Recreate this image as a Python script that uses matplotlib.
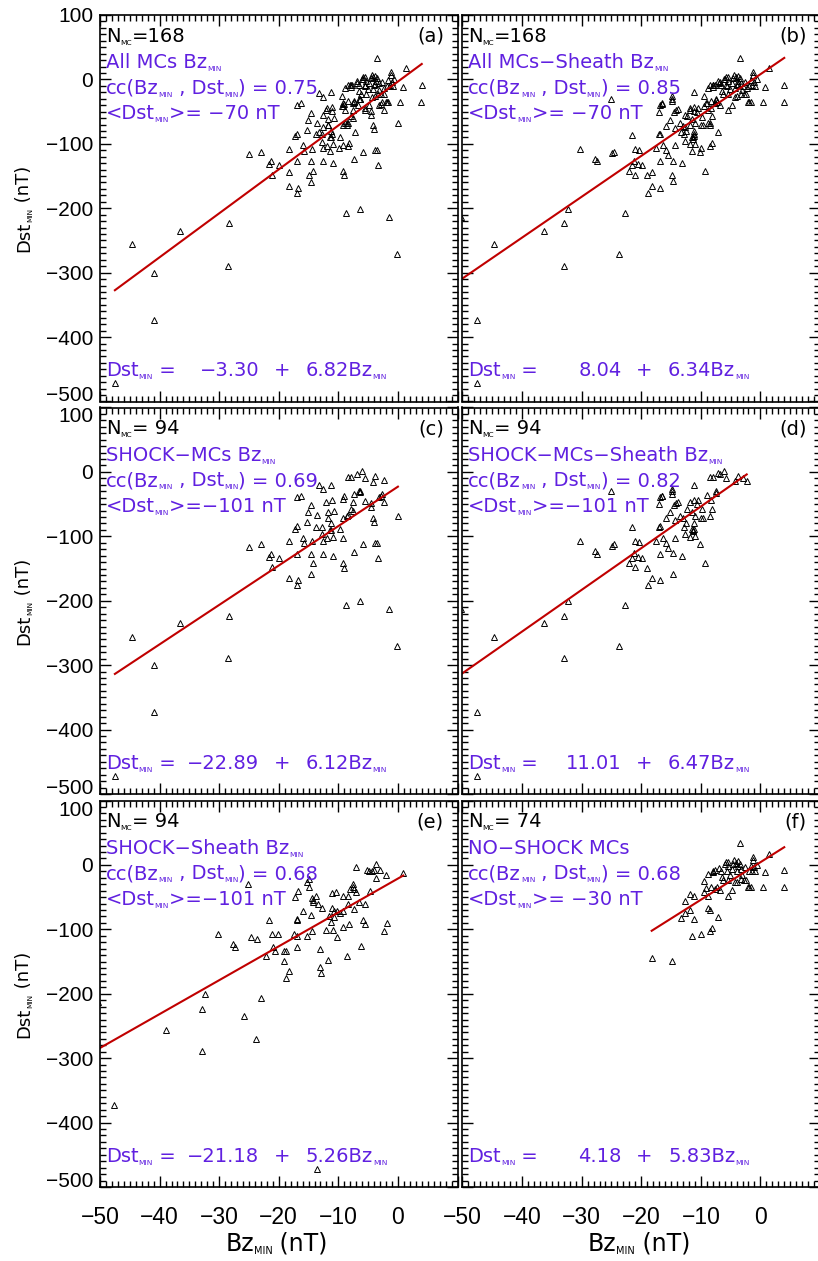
import numpy as np
import matplotlib
matplotlib.use("Agg")
import matplotlib.pyplot as plt
from matplotlib.ticker import MultipleLocator

plt.rcParams["font.family"] = "DejaVu Sans"

PURPLE = "#6020e0"
RED = "#c00000"
MINUS = "\u2212"

# shock-driving MCs, Bz_MIN inside the MC  (panel c)
bz_c = [-47.5, -44.7, -41.0, -40.9, -36.5, -28.6, -28.3, -25.0, -23.0, -21.6,
        -21.3, -21.2, -19.9, -18.3, -18.2, -17.3, -16.9, -16.9, -17.0, -16.8,
        -16.9, -16.3, -15.9, -15.7, -15.3, -15.1, -14.6, -14.6, -14.6, -14.3,
        -14.5, -13.7, -13.5, -13.3, -12.7, -12.7, -12.6, -12.6, -12.6, -12.0,
        -11.9, -11.8, -11.7, -11.4, -11.2, -11.2, -11.2, -11.0, -10.9, -10.9,
        -10.7, -9.7, -9.3, -9.2, -9.1, -9.2, -9.0, -8.7, -9.3, -8.5,
        -8.3, -8.3, -7.8, -7.8, -7.6, -7.5, -7.4, -7.4, -6.9, -6.6,
        -6.4, -6.3, -6.4, -6.0, -5.8, -5.6, -5.5, -4.5, -4.2, -4.1,
        -4.0, -3.8, -3.8, -3.5, -3.4, -3.1, -2.6, -2.4, -2.3, -1.5,
        0.0, -0.1, -2.9, -4.6]
dst_c = [-472, -256, -300, -373, -235, -289, -223, -116, -112, -132,
         -127, -148, -133, -108, -165, -88, -84, -127, -176, -168,
         -39, -37, -102, -111, -78, -63, -52, -127, -159, -142,
         -108, -85, -67, -21, -85, -97, -27, -107, -127, -47,
         -103, -71, -62, -90, -90, -80, -20, -43, -101, -130,
         -60, -89, -42, -102, -38, -142, -149, -207, -71, -68,
         -8, -67, -8, -57, -60, -47, -34, -124, -3, -30,
         -30, -31, -201, 1, -112, -9, -45, -49, -15, -71,
         -77, -7, -110, -110, -133, -39, -35, -13, -47, -213,
         -68, -271, -38, -55]

# shock-driving MCs, Bz_MIN over MC + sheath  (panel d)
bz_d = [-50.3, -47.6, -47.5, -44.7, -36.4, -32.9, -32.9, -32.3, -30.3, -27.8,
        -27.4, -25.0, -24.9, -24.6, -23.8, -22.8, -22.1, -21.6, -21.6, -21.2,
        -21.1, -21.0, -20.6, -20.3, -19.9, -19.1, -18.8, -18.2, -17.5, -17.1,
        -17.0, -16.8, -16.8, -16.8, -16.8, -16.5, -16.3, -15.9, -15.9, -15.2,
        -14.9, -14.8, -14.6, -14.6, -14.5, -14.4, -14.3, -14.2, -13.8, -13.5,
        -13.2, -12.8, -12.7, -11.9, -11.8, -11.5, -11.4, -11.2, -11.2, -11.0,
        -10.9, -11.1, -11.3, -10.4, -10.2, -10.0, -9.6, -9.3, -8.9, -8.5,
        -8.3, -8.2, -8.5, -8.0, -7.5, -7.4, -7.1, -6.1, -5.7, -4.3,
        -3.7, -2.3, -16.6, -14.8, -11.3, -11.2, -13.0, -12.3, -9.8, -15.5,
        -10.6, -6.8, -3.0, -12.5]
dst_d = [-213, -373, -472, -256, -235, -223, -289, -201, -108, -123,
         -127, -30, -115, -112, -271, -207, -142, -86, -133, -126,
         -148, -108, -132, -109, -133, -149, -176, -165, -107, -50,
         -85, -84, -127, -168, -39, -37, -102, -110, -72, -63,
         -26, -34, -126, -158, -51, -102, -75, -48, -46, -68,
         -130, -85, -96, -47, -101, -62, -89, -20, -43, -68,
         -100, -80, -90, -44, -112, -71, -71, -142, -36, -68,
         -44, -57, -8, -8, -30, -32, -2, 1, -9, -14,
         -7, -14, -38, -30, -92, -88, -72, -57, -58, -118,
         -50, -4, -10, -80]

# shock-driving MCs, Bz_MIN inside the sheath  (panel e)
bz_e = [-50.3, -47.6, -38.9, -32.9, -32.9, -32.4, -30.2, -27.7, -27.3, -25.9,
        -25.1, -24.7, -23.7, -23.8, -22.9, -22.2, -21.6, -21.1, -21.0, -20.6,
        -20.2, -19.1, -19.1, -18.8, -18.8, -18.2, -17.5, -17.2, -17.0, -16.9,
        -16.9, -16.9, -16.7, -16.0, -15.3, -15.2, -14.9, -15.0, -14.6, -14.5,
        -14.5, -14.3, -14.2, -13.7, -13.4, -13.1, -13.0, -12.9, -12.7, -12.0,
        -11.8, -11.6, -11.2, -11.1, -11.1, -10.9, -10.8, -10.7, -10.4, -10.3,
        -10.3, -9.3, -9.2, -9.3, -8.5, -8.3, -8.3, -8.2, -8.1, -7.6,
        -7.5, -7.4, -7.3, -7.1, -7.0, -6.5, -6.2, -5.9, -5.6, -5.5,
        -5.2, -4.8, -4.7, -4.4, -4.0, -3.7, -3.6, -3.0, -2.4, -2.0,
        -1.9, 0.9, -13.6, -9.8]
dst_e = [-213, -372, -256, -223, -289, -201, -108, -123, -128, -235,
         -29, -112, -115, -271, -207, -142, -86, -108, -128, -133,
         -108, -149, -133, -133, -176, -165, -107, -50, -84, -86,
         -111, -128, -40, -71, -111, -27, -35, -22, -78, -102,
         -51, -54, -58, -48, -60, -130, -159, -168, -67, -101,
         -148, -79, -89, -44, -67, -101, -71, -81, -42, -72,
         -112, -97, -48, -71, -142, -48, -61, -91, -37, -34,
         -30, -37, -68, -4, -42, -57, -126, -85, -61, -91,
         -8, -9, -41, -9, -8, 2, -20, -8, -102, -15,
         -90, -13, -472, -75]

# MCs without a shock  (panel f)
bz_f = [-18.25, -14.9, -13.3, -12.6, -12.6, -11.8, -11.9, -11.1, -11.1, -11.4,
        -9.9, -9.4, -9.4, -8.8, -8.8, -8.8, -8.5, -8.4, -8.2, -8.0,
        -7.9, -8.3, -7.6, -7.2, -7.3, -6.9, -6.6, -6.5, -6.7, -6.2,
        -5.9, -5.6, -5.5, -5.5, -5.4, -5.4, -5.1, -4.8, -4.8, -4.4,
        -4.3, -4.1, -3.9, -3.8, -3.7, -3.5, -3.5, -3.3, -3.2, -3.1,
        -2.8, -2.4, -2.0, -1.9, -1.6, -1.9, -1.6, -1.4, -1.2, -1.2,
        -0.9, -0.6, -1.0, 0.4, 0.8, 1.4, 3.9, 4.0, -2.6, -5.8,
        -9.2, -7.7, -4.6, -4.0]
dst_f = [-144, -149, -82, -74, -56, -70, -45, -49, -84, -111,
         -107, -42, -25, -14, -48, -67, -70, -103, -98, -9,
         -11, -34, -37, -81, -35, -5, -9, -18, -39, -23,
         1, -10, -48, 4, -2, -23, -15, -39, -6, 7,
         -27, 3, -26, 6, -2, 34, 2, -22, -6, -16,
         -23, -23, -35, -35, -35, -10, -1, -9, 12, 7,
         -10, 0, -4, -35, -11, 17, -35, -8, -4, 4,
         -36, -8, 2, -9]

# all MCs = shock + no-shock
bz_a = bz_c + bz_f
dst_a = dst_c + dst_f
bz_b = bz_d + bz_f
dst_b = dst_d + dst_f

panel_bz = [bz_a, bz_b, bz_c, bz_d, bz_e, bz_f]
panel_dst = [dst_a, dst_b, dst_c, dst_d, dst_e, dst_f]
tags = ["(a)", "(b)", "(c)", "(d)", "(e)", "(f)"]
titles = ["All MCs Bz", "All MCs" + MINUS + "Sheath Bz", "SHOCK" + MINUS + "MCs Bz",
          "SHOCK" + MINUS + "MCs" + MINUS + "Sheath Bz", "SHOCK" + MINUS + "Sheath Bz",
          "NO" + MINUS + "SHOCK MCs"]
title_sub = [True, True, True, True, True, False]
n_mc = [168, 168, 94, 94, 94, 74]
cc = [0.75, 0.85, 0.69, 0.82, 0.68, 0.68]
mean_dst = [-70, -70, -101, -101, -101, -30]
intercept = [-3.30, 8.04, -22.89, 11.01, -21.18, 4.18]
slope = [6.82, 6.34, 6.12, 6.47, 5.26, 5.83]

xticks = [-50, -40, -30, -20, -10, 0, 10]
xticklabels = ["\u221250", "\u221240", "\u221230", "\u221220", "\u221210", "0", ""]
yticks = [-500, -400, -300, -200, -100, 0, 100]
yticklabels = ["\u2212500", "\u2212400", "\u2212300", "\u2212200", "\u2212100", "0", "100"]

TXT = 14
SUB = 5.4


def rich(ax, x, y, parts, color, size=TXT, sub=SUB):
    # parts alternate: normal, subscript, normal, ...
    first = ax.text(x, y, parts[0], transform=ax.transAxes, color=color,
                    fontsize=size, ha="left", va="bottom")
    prev = first
    for i, p in enumerate(parts[1:], start=1):
        if not p:
            continue
        prev = ax.annotate(p, xy=(1, 0), xycoords=(prev, first), color=color,
                           fontsize=sub if i % 2 else size, ha="left", va="bottom")
    return prev


def vrich(ax, x, y, parts, size, sub):
    first = ax.text(x, y, parts[0], transform=ax.transAxes, rotation=90,
                    fontsize=size, ha="right", va="bottom")
    prev = first
    for i, p in enumerate(parts[1:], start=1):
        prev = ax.annotate(p, xy=(1, 1), xycoords=(first, prev), rotation=90,
                           fontsize=sub if i % 2 else size, ha="right", va="bottom")
    return prev


def fmt(v, spec):
    return format(v, spec).replace("-", MINUS)


fig = plt.figure(figsize=(8.18, 12.61), dpi=100)
col_x = [100 / 818, 462.5 / 818]
row_y = [(1261 - 401.5) / 1261, (1261 - 794) / 1261, (1261 - 1187) / 1261]
aw, ah = 357.5 / 818, 386.5 / 1261

for k in range(6):
    r, c = divmod(k, 2)
    ax = fig.add_axes([col_x[c], row_y[r], aw, ah])
    ax.set_xlim(-50, 10)
    ax.set_ylim(-500, 100)
    for s in ax.spines.values():
        s.set_linewidth(1.2)

    ax.set_xticks(xticks)
    ax.set_yticks(yticks)
    ax.xaxis.set_minor_locator(MultipleLocator(1))
    ax.yaxis.set_minor_locator(MultipleLocator(10))
    ax.tick_params(which="both", direction="in", top=True, right=True, width=1)
    ax.tick_params(which="major", length=8)
    ax.tick_params(which="minor", length=4)

    if r == 2:
        ax.set_xticklabels(xticklabels, fontsize=16.5, fontfamily="Liberation Sans")
        ax.tick_params(axis="x", pad=14)
        rich(ax, 0.35, -0.178, ["Bz", "MIN", " (nT)"], "black", size=17, sub=7)
    else:
        ax.tick_params(axis="x", labelbottom=False)
    if c == 0:
        ax.set_yticklabels(yticklabels, fontsize=15, fontfamily="Liberation Sans")
        ax.tick_params(axis="y", pad=5)
        ticks = ax.yaxis.get_major_ticks()
        ticks[0].label1.set_va("baseline")
        if r > 0:
            ticks[-1].label1.set_va("top")
        vrich(ax, -0.187, 0.386, ["Dst", "MIN", " (nT)"], 13, 5.3)
    else:
        ax.tick_params(axis="y", labelleft=False)

    bz = np.array(panel_bz[k], dtype=float)
    dst = np.array(panel_dst[k], dtype=float)
    ax.plot(bz, dst, "^", ms=4.2, mfc="none", mec="black", mew=0.7)
    xs = np.array([bz.min(), bz.max()])
    ax.plot(xs, intercept[k] + slope[k] * xs, color=RED, lw=1.5)

    # annotations
    rich(ax, 0.016, 0.921, ["N", "MC", "=%3d" % n_mc[k]], "black")
    ax.text(0.962, 0.921, tags[k], transform=ax.transAxes, fontsize=TXT,
            ha="right", va="bottom")
    if title_sub[k]:
        rich(ax, 0.016, 0.852, [titles[k], "MIN"], PURPLE)
    else:
        rich(ax, 0.016, 0.852, [titles[k]], PURPLE)
    rich(ax, 0.016, 0.786, ["cc(Bz", "MIN", " , Dst", "MIN", ") = %.2f" % cc[k]], PURPLE)
    rich(ax, 0.016, 0.720, ["<Dst", "MIN", ">=" + fmt(mean_dst[k], "4d") + " nT"], PURPLE)
    rich(ax, 0.016, 0.0546, ["Dst", "MIN", " ="], PURPLE)
    ax.text(0.445, 0.0546, fmt(intercept[k], ".2f"), transform=ax.transAxes,
            color=PURPLE, fontsize=TXT, ha="right", va="bottom")
    ax.text(0.485, 0.0546, "+", transform=ax.transAxes, color=PURPLE,
            fontsize=TXT, ha="left", va="bottom")
    rich(ax, 0.575, 0.0546, ["%.2fBz" % slope[k], "MIN"], PURPLE)

fig.savefig("out.png", dpi=100)
